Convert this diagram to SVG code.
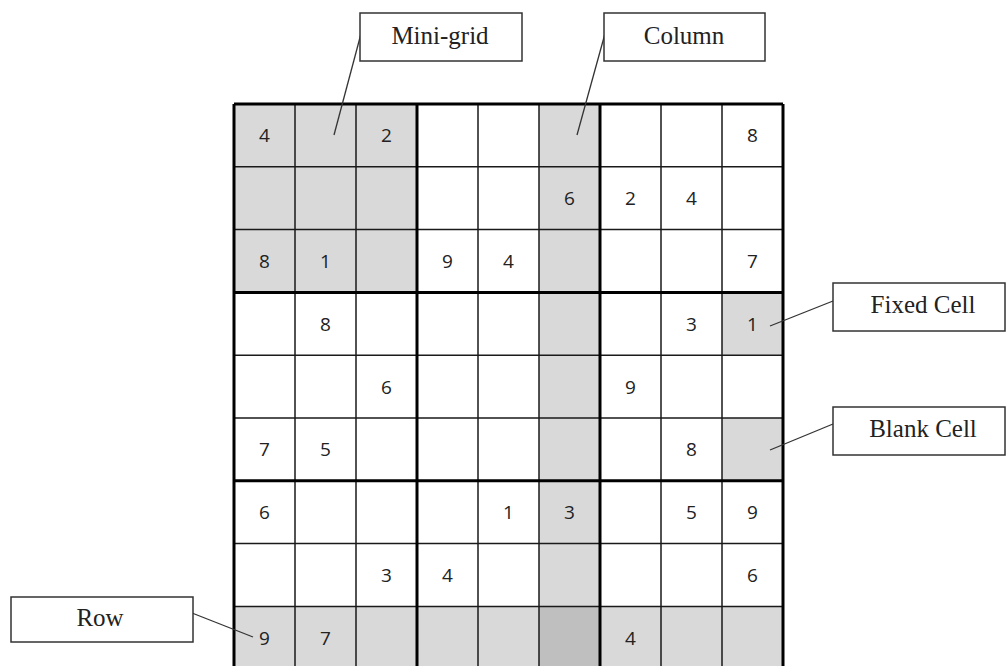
<svg xmlns="http://www.w3.org/2000/svg" width="1008" height="666" viewBox="0 0 1008 666">
<style>
.bg{fill:#ffffff}
.sh{fill:#d9d9d9}
.sh2{fill:#bfbfbf}
.thin{stroke:#1a1a1a;stroke-width:1.5;fill:none}
.thick{stroke:#000;stroke-width:3;fill:none}
.num{font-family:"Open Sans","DejaVu Sans",sans-serif;font-size:19px;fill:#222;text-anchor:middle}
.box{fill:#fff;stroke:#333;stroke-width:1.5}
.lbl{font-family:"Liberation Serif","Times New Roman",serif;font-size:25px;fill:#222;text-anchor:middle}
.lead{stroke:#333;stroke-width:1.3;fill:none}
</style>
<rect class="bg" x="0" y="0" width="1008" height="666"/>
<g id="grid">
<g id="shading">
<rect class="sh" x="234" y="104" width="183" height="188.4"/>
<rect class="sh" x="539" y="104" width="61" height="565.2"/>
<rect class="sh" x="234" y="606.4" width="549" height="62.8"/>
<rect class="sh2" x="539" y="606.4" width="61" height="62.8"/>
<rect class="sh" x="722" y="292.4" width="61" height="62.8"/>
<rect class="sh" x="722" y="418" width="61" height="62.8"/>
</g>
<g id="thin-lines" class="thin">
<path d="M295 104V669.2M356 104V669.2M478 104V669.2M539 104V669.2M661 104V669.2M722 104V669.2"/>
<path d="M234 166.8H783M234 229.6H783M234 355.2H783M234 418H783M234 543.6H783M234 606.4H783"/>
</g>
<g id="thick-lines" class="thick">
<path d="M234 104V669.2M417 104V669.2M600 104V669.2M783 104V669.2"/>
<path d="M234 104H783M234 292.4H783M234 480.8H783"/>
</g>
<g id="numbers" class="num">
<text x="264.5" y="142.4">4</text>
<text x="386.5" y="142.4">2</text>
<text x="752.5" y="142.4">8</text>
<text x="569.5" y="205.2">6</text>
<text x="630.5" y="205.2">2</text>
<text x="691.5" y="205.2">4</text>
<text x="264.5" y="268">8</text>
<text x="325.5" y="268">1</text>
<text x="447.5" y="268">9</text>
<text x="508.5" y="268">4</text>
<text x="752.5" y="268">7</text>
<text x="325.5" y="330.8">8</text>
<text x="691.5" y="330.8">3</text>
<text x="752.5" y="330.8">1</text>
<text x="386.5" y="393.6">6</text>
<text x="630.5" y="393.6">9</text>
<text x="264.5" y="456.4">7</text>
<text x="325.5" y="456.4">5</text>
<text x="691.5" y="456.4">8</text>
<text x="264.5" y="519.2">6</text>
<text x="508.5" y="519.2">1</text>
<text x="569.5" y="519.2">3</text>
<text x="691.5" y="519.2">5</text>
<text x="752.5" y="519.2">9</text>
<text x="386.5" y="582">3</text>
<text x="447.5" y="582">4</text>
<text x="752.5" y="582">6</text>
<text x="264.5" y="644.8">9</text>
<text x="325.5" y="644.8">7</text>
<text x="630.5" y="644.8">4</text>
</g>
</g>
<g id="connectors" class="lead">
<line x1="362" y1="30" x2="334" y2="135"/>
<line x1="606" y1="30" x2="577" y2="135"/>
<line x1="833" y1="301" x2="770" y2="326"/>
<line x1="833" y1="424" x2="770" y2="450"/>
<line x1="192" y1="613" x2="253" y2="637"/>
</g>
<g id="label-minigrid">
<rect class="box" x="360" y="13" width="162" height="48"/>
<text class="lbl" x="440" y="44">Mini-grid</text>
</g>
<g id="label-column">
<rect class="box" x="604" y="13" width="161" height="48"/>
<text class="lbl" x="684" y="44">Column</text>
</g>
<g id="label-fixed">
<rect class="box" x="833" y="283" width="172" height="48"/>
<text class="lbl" x="923" y="313">Fixed Cell</text>
</g>
<g id="label-blank">
<rect class="box" x="833" y="407" width="172" height="48"/>
<text class="lbl" x="923" y="437">Blank Cell</text>
</g>
<g id="label-row">
<rect class="box" x="11" y="597" width="182" height="45"/>
<text class="lbl" x="100" y="626">Row</text>
</g>
</svg>
